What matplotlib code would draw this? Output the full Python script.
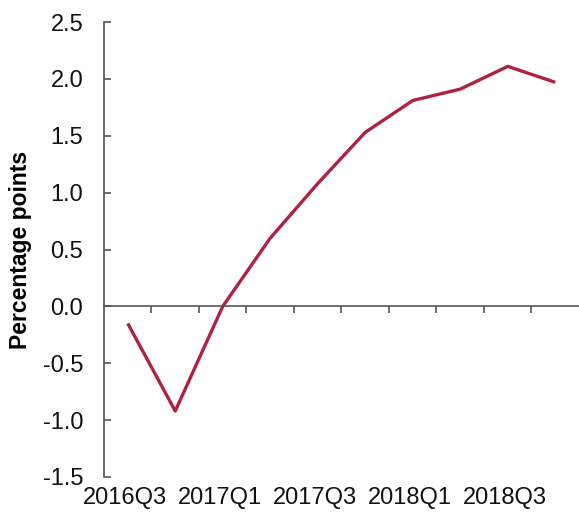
import matplotlib.pyplot as plt
import matplotlib.transforms as mtransforms

# quarters and values (percentage points)
quarters = ["2016Q3", "2016Q4", "2017Q1", "2017Q2", "2017Q3",
            "2017Q4", "2018Q1", "2018Q2", "2018Q3", "2018Q4"]
values = [-0.15, -0.92, 0.0, 0.60, 1.08, 1.53, 1.81, 1.91, 2.11, 1.97]
y_ticks = [-1.5, -1.0, -0.5, 0.0, 0.5, 1.0, 1.5, 2.0, 2.5]

plt.rcParams['font.family'] = ['Liberation Sans', 'DejaVu Sans']

fig = plt.figure(figsize=(5.79, 5.17), dpi=100)
ax = fig.add_axes([0.1796, 0.0774, 0.8204, 0.88])

x = list(range(len(quarters)))
ax.plot(x, values, color='#AE2342', linewidth=2.4, solid_capstyle='butt')

ax.set_xlim(-0.5, len(quarters) - 0.5)
ax.set_ylim(-1.5, 2.5)
ax.set_yticks(y_ticks)
ax.set_yticklabels([f"{v:.1f}" for v in y_ticks])

# spines: left axis and category axis crossing at zero
for s in ['top', 'right']:
    ax.spines[s].set_visible(False)
ax.spines['bottom'].set_position(('data', 0))
ax.spines['left'].set_color('#555555')
ax.spines['bottom'].set_color('#555555')
ax.spines['left'].set_linewidth(1.2)
ax.spines['bottom'].set_linewidth(1.2)

ax.tick_params(axis='y', direction='in', length=5, width=1.2, color='#555555',
               labelsize=17, pad=15, labelcolor='#111111')
ax.set_xticks([i + 0.5 for i in range(len(quarters) - 1)])
ax.set_xticklabels([])
ax.tick_params(axis='x', direction='out', length=5, width=1.2, color='#555555')

# category labels at the bottom of the plot, every second quarter
trans = mtransforms.blended_transform_factory(ax.transData, ax.transAxes)
for i, q in enumerate(quarters):
    if i % 2 == 0:
        ax.text(i - 0.05, -0.022, q, transform=trans, ha='center', va='top',
                fontsize=17, color='#111111')

ax.set_ylabel("Percentage points", fontsize=16.5, fontweight='bold', labelpad=8)

fig.savefig("out.png", dpi=100)
